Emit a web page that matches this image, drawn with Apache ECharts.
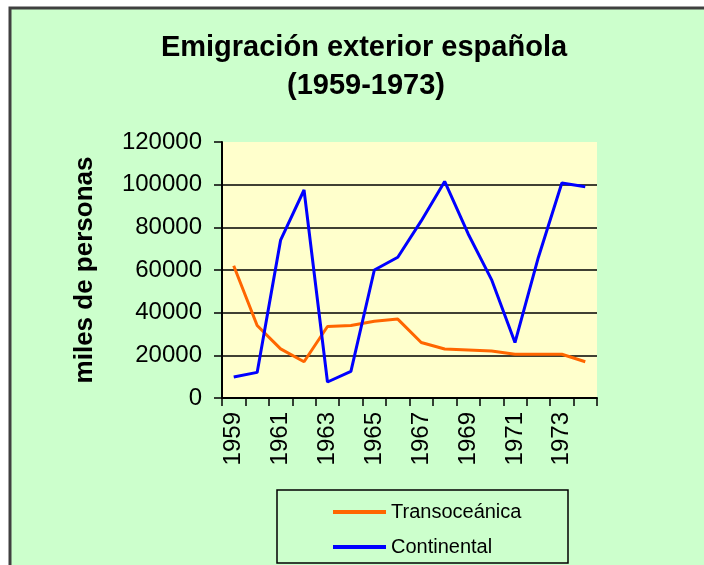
<!DOCTYPE html>
<html>
<head>
<meta charset="utf-8">
<script src="https://cdn.jsdelivr.net/npm/echarts@6/dist/echarts.min.js"></script>
<style>
html,body{margin:0;padding:0;background:#ffffff;}
#chart{width:704px;height:565px;}
</style>
</head>
<body>
<div id="chart"></div>
<script>
var years = ['1959','1960','1961','1962','1963','1964','1965','1966','1967','1968','1969','1970','1971','1972','1973','1974'];
var transoceanica = [62000, 34000, 23000, 17000, 33500, 34000, 36000, 37000, 26000, 23000, 22500, 22000, 20500, 20500, 20500, 17000];
var continental = [9800, 12000, 74000, 97500, 7500, 12500, 60000, 66000, 83000, 101500, 77000, 55500, 26000, 66000, 100800, 99000];
var titleLines = ['Emigración exterior española', '(1959-1973)'];
var yName = 'miles de personas';
var seriesNames = ['Transoceánica', 'Continental'];

var font = '"Liberation Sans", Arial, sans-serif';
var chart = echarts.init(document.getElementById('chart'), null, {renderer: 'canvas'});
chart.setOption({
  backgroundColor: 'transparent',
  animation: false,
  graphic: [
    {type: 'rect', z: -10, silent: true, shape: {x: 10, y: 8, width: 760, height: 640},
     style: {fill: '#CCFFCC', stroke: '#404040', lineWidth: 3}},
    {type: 'rect', z: 1, silent: true, shape: {x: 277, y: 490, width: 291, height: 73},
     style: {fill: 'transparent', stroke: '#000', lineWidth: 1.5}},
    {type: 'text', z: 5, x: 364, y: 48, style: {text: titleLines[0], font: 'bold 29px ' + font, fill: '#000', align: 'center', verticalAlign: 'middle'}},
    {type: 'text', z: 5, x: 366, y: 86, style: {text: titleLines[1], font: 'bold 29px ' + font, fill: '#000', align: 'center', verticalAlign: 'middle'}}
  ],
  legend: {
    orient: 'vertical', left: 328, top: 497,
    itemWidth: 53, itemHeight: 4, itemGap: 15,
    icon: 'rect',
    textStyle: {fontFamily: font, fontSize: 20, color: '#000', lineHeight: 20},
    data: seriesNames
  },
  grid: {left: 222, right: 107, top: 142, bottom: 167, show: true, backgroundColor: '#FFFFCC', borderWidth: 0},
  xAxis: {
    type: 'category', data: years, boundaryGap: true,
    axisLine: {lineStyle: {color: '#000', width: 2}},
    axisTick: {show: true, interval: 0, length: 8, lineStyle: {color: '#000', width: 1.5}},
    axisLabel: {interval: 1, rotate: 90, margin: 14, fontFamily: font, fontSize: 24, color: '#000'},
    splitLine: {show: false}
  },
  yAxis: {
    type: 'value', min: 0, max: 120000, interval: 20000,
    name: yName, nameLocation: 'middle', nameGap: 124,
    nameTextStyle: {fontFamily: font, fontSize: 26, fontWeight: 'bold', color: '#000'},
    axisLine: {show: true, lineStyle: {color: '#000', width: 2}},
    axisTick: {show: true, length: 8, lineStyle: {color: '#000', width: 1.5}},
    axisLabel: {margin: 20, fontFamily: font, fontSize: 24, color: '#000', formatter: function (v) { return String(v); }},
    splitLine: {show: true, lineStyle: {color: ['#000','#000','#000','#000','#000','#000','rgba(0,0,0,0)'], width: 1.5}}
  },
  series: [
    {name: seriesNames[0], type: 'line', data: transoceanica, symbol: 'none', lineStyle: {color: '#FF6600', width: 3}, itemStyle: {color: '#FF6600'}},
    {name: seriesNames[1], type: 'line', data: continental, symbol: 'none', lineStyle: {color: '#0000FF', width: 3}, itemStyle: {color: '#0000FF'}}
  ]
});
</script>
</body>
</html>
